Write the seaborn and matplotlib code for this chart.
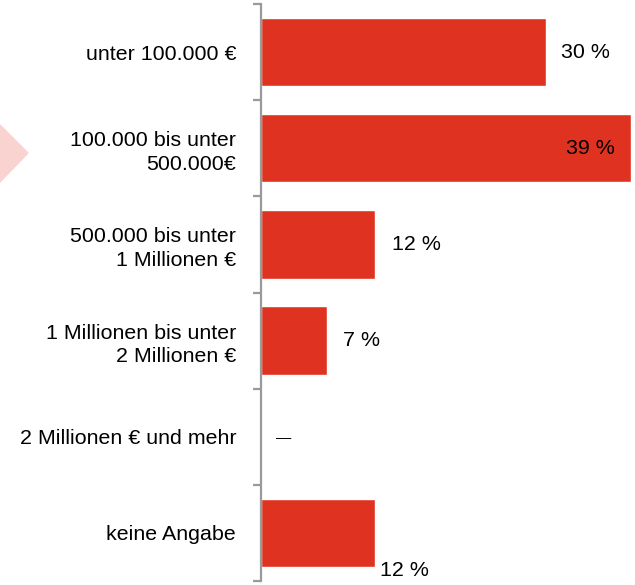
import pandas as pd
import seaborn as sns
import matplotlib.pyplot as plt
from matplotlib.patches import Polygon

categories = ['unter 100.000 €', '100.000 bis unter\n500.000€', '500.000 bis unter\n1 Millionen €',
              '1 Millionen bis unter\n2 Millionen €', '2 Millionen € und mehr', 'keine Angabe']
values = [30, 39, 12, 7, 0, 12]
labels = ['30 %', '39 %', '12 %', '7 %', '—', '12 %']

df = pd.DataFrame({'kategorie': categories, 'anteil': values})

sns.set_style('white')
plt.rcParams['font.family'] = ['Liberation Sans', 'DejaVu Sans']

fig = plt.figure(figsize=(6.35, 5.85), dpi=100)
ax = fig.add_axes([261 / 635, 4 / 585, 370 / 635, 577 / 585])

# decorative chevron on the left edge
fig.patches.append(Polygon([(0, 1 - 125 / 585), (28 / 635, 1 - 153 / 585), (0, 1 - 182 / 585)],
                           closed=True, transform=fig.transFigure, color='#F9D3CF', zorder=0))

sns.barplot(data=df, y='kategorie', x='anteil', orient='h', color='#E03220',
            saturation=1, width=0.71, ax=ax)

ax.set_xlim(0, 39)
ax.set_ylim(5.5, -0.5)
ax.set_xlabel('')
ax.set_ylabel('')
ax.set_xticks([])

for s in ['top', 'right', 'bottom']:
    ax.spines[s].set_visible(False)
ax.spines['left'].set_color('#9A9A9A')
ax.spines['left'].set_linewidth(1.6)

ax.set_yticks(range(len(categories)))
ax.set_yticklabels(categories, fontsize=15.4, color='black', linespacing=1.3)
ax.set_yticks([i - 0.5 for i in range(len(categories) + 1)], minor=True)
ax.tick_params(axis='y', which='major', left=False, length=0, pad=18)
ax.tick_params(axis='y', which='minor', left=True, length=6, width=1.6, color='#9A9A9A')

# value labels
offsets = [(11, 0, 'left', 'center'), (-12, 0, 'right', 'center'), (12, 0, 'left', 'center'),
           (11, 0, 'left', 'center'), (11, -1, 'left', 'center'), (4, -27, 'left', 'center')]
sizes = [15.4, 15.4, 15.4, 15.4, 11, 15.4]
for i, (v, lab) in enumerate(zip(values, labels)):
    dx, dy, ha, va = offsets[i]
    ax.annotate(lab, (v, i), xytext=(dx, dy), textcoords='offset points',
                ha=ha, va=va, fontsize=sizes[i], color='black', annotation_clip=False)

fig.savefig('out.png', dpi=100)
